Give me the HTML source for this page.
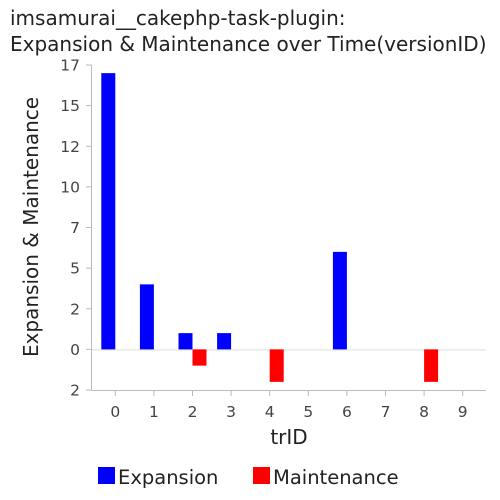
<!DOCTYPE html>
<html><head><meta charset="utf-8"><style>
body{margin:0;background:#fff;}
svg{display:block;font-family:"DejaVu Sans","Liberation Sans",sans-serif;}
</style></head><body>
<svg id="chart" width="500" height="500">
<text x="10" y="25" font-size="20" fill="#222">imsamurai__cakephp-task-plugin:</text>
<text x="10" y="51" font-size="20" fill="#222">Expansion &amp; Maintenance over Time(versionID)</text>
<g id="plot"></g>
<text transform="translate(38,227) rotate(-90)" text-anchor="middle" font-size="20" fill="#222">Expansion &amp; Maintenance</text>
<text x="289" y="444" text-anchor="middle" font-size="20" fill="#222">trID</text>
<g>
<rect x="98" y="467" width="17" height="17" fill="#0000ff"></rect>
<text x="118" y="484" font-size="19.5" fill="#222">Expansion</text>
<rect x="253" y="467" width="17" height="17" fill="#ff0000"></rect>
<text x="273" y="484" font-size="19.5" fill="#222">Maintenance</text>
</g>
</svg>
<script>
const categories = [0,1,2,3,4,5,6,7,8,9];
const expansion = [17,4,1,1,0,0,6,0,0,0];
const maintenance = [0,0,-1,0,-2,0,0,0,-2,0];
const yTicks = [17.5,15,12.5,10,7.5,5,2.5,0,-2.5];
const yTickLabels = ["17","15","12","10","7","5","2","0","2"];

const NS = "http://www.w3.org/2000/svg";
const g = document.getElementById("plot");
const x0 = 96, x1 = 482, yTop = 65, yBot = 390, yMax = 17.5, yMin = -2.5;
const band = (x1 - x0) / categories.length;
const xc = i => x0 + band * (i + 0.5);
const y = v => yTop + (yMax - v) / (yMax - yMin) * (yBot - yTop);
function el(tag, attrs){const e=document.createElementNS(NS,tag);for(const k in attrs)e.setAttribute(k,attrs[k]);g.appendChild(e);return e;}

let a = el("line",{x1:91.5,x2:91.5,y1:yTop,y2:yBot,stroke:"#bbb"});


a = el("line",{x1:91.5,x2:486,y1:yBot+0.5,y2:yBot+0.5,stroke:"#bbb"});


a = el("line",{x1:92,x2:486,y1:y(0)+0.5,y2:y(0)+0.5,stroke:"#ddd"});



yTicks.forEach((t,i)=>{
  const yy = y(t);
  const tk = el("line",{x1:86,x2:91.5,y1:yy,y2:yy,stroke:"#bbb"});
  
  
  const tx = el("text",{x:80,y:yy+5.5,"text-anchor":"end","font-size":15.5,fill:"#444"});
  tx.textContent = yTickLabels[i];
  
  
});
categories.forEach((c,i)=>{
  const xx = xc(i);
  const tk = el("line",{x1:xx,x2:xx,y1:yBot,y2:yBot+6,stroke:"#bbb"});
  
  
  const tx = el("text",{x:xx,y:yBot+27,"text-anchor":"middle","font-size":15.5,fill:"#444"});
  tx.textContent = c;
  
  
});
const bw = 14;
categories.forEach((c,i)=>{
  const e = expansion[i];
  if(e!==0){
    const r = el("rect",{x:xc(i)-bw,width:bw,y:Math.min(y(e),y(0)),height:Math.abs(y(e)-y(0)),fill:"#0000ff"});
    
    
  }
  const m = maintenance[i];
  if(m!==0){
    const r = el("rect",{x:xc(i),width:bw,y:Math.min(y(m),y(0)),height:Math.abs(y(m)-y(0)),fill:"#ff0000"});
    
    
  }
});
</script>
</body></html>
